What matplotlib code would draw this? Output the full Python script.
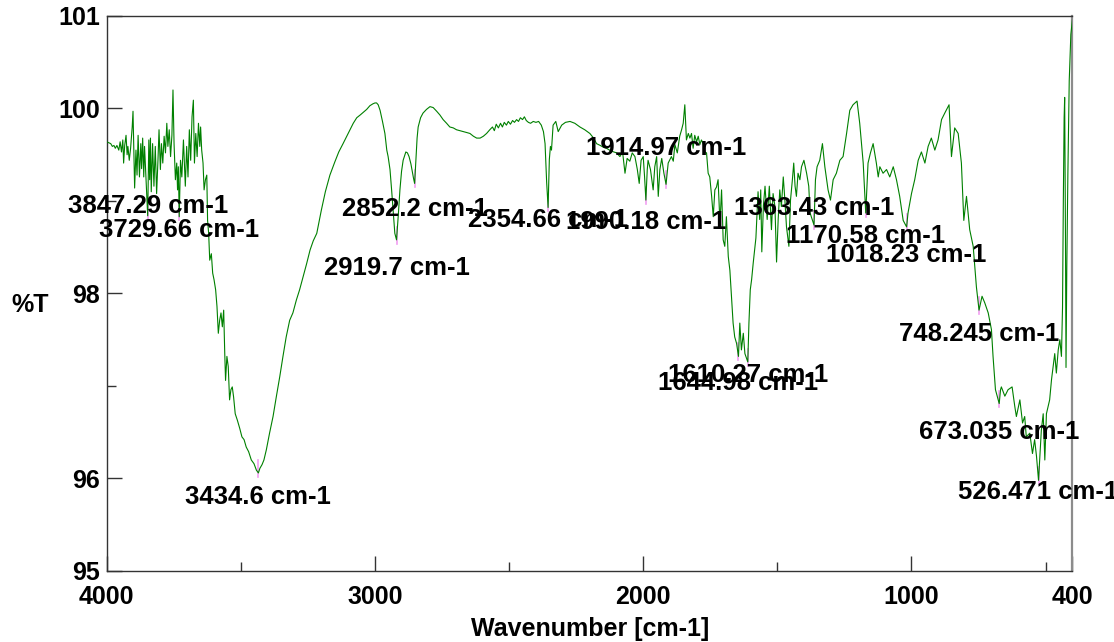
import numpy as np
import matplotlib
matplotlib.use('Agg')
import matplotlib.pyplot as plt

# IR transmittance spectrum, split by region (wavenumber in cm-1, %T)

# O-H stretch region
wn_a = [4000, 3985, 3979, 3973, 3968, 3962, 3955, 3950, 3945, 3940,
        3937, 3933, 3928, 3924, 3921, 3916, 3911, 3905, 3902, 3898,
        3896, 3891, 3887, 3883, 3878, 3873, 3870, 3866, 3862, 3859,
        3855, 3847.29, 3843, 3840, 3837, 3834, 3829, 3824, 3819, 3814,
        3809, 3805, 3800, 3796, 3791, 3786, 3781, 3776, 3772, 3767,
        3762, 3757, 3753, 3749, 3744, 3739, 3736, 3733, 3729.66, 3725,
        3720, 3714, 3707, 3702, 3697, 3692, 3687, 3682, 3677, 3673,
        3668, 3663, 3658, 3653, 3650, 3646, 3641, 3637, 3632, 3627,
        3624, 3620, 3616, 3610, 3605, 3600, 3594, 3589, 3584, 3579,
        3574, 3569, 3564, 3560, 3557, 3552, 3547, 3542, 3537, 3532,
        3527, 3521, 3513, 3504, 3496, 3488, 3480, 3471, 3461, 3451,
        3442, 3434.6, 3429, 3421, 3414, 3405, 3393, 3380, 3368, 3355,
        3343, 3331, 3318, 3306, 3293, 3281]
t_a = [99.64, 99.62, 99.59, 99.60, 99.57, 99.60, 99.55, 99.64, 99.53, 99.66,
       99.41, 99.60, 99.71, 99.50, 99.59, 99.44, 99.57, 99.80, 99.97, 99.41,
       99.14, 99.55, 99.28, 99.71, 99.26, 99.62, 99.35, 99.68, 99.26, 99.59,
       99.34, 98.84, 99.66, 99.23, 99.68, 99.10, 99.62, 99.16, 99.59, 99.08,
       99.44, 99.77, 99.34, 99.62, 99.41, 99.70, 99.52, 99.84, 99.59, 99.77,
       99.48, 99.71, 100.20, 99.62, 99.23, 99.41, 99.12, 99.37, 98.83, 99.44,
       99.26, 99.66, 99.16, 99.59, 99.26, 99.77, 99.44, 99.91, 100.09, 99.41,
       99.73, 99.48, 99.84, 99.59, 99.80, 99.55, 99.41, 99.12, 99.23, 99.28,
       98.79, 98.65, 98.36, 98.43, 98.22, 98.15, 98.04, 97.86, 97.57, 97.71,
       97.79, 97.64, 97.82, 97.35, 97.06, 97.32, 97.21, 96.85, 96.96, 96.99,
       96.88, 96.70, 96.63, 96.54, 96.45, 96.42, 96.34, 96.29, 96.20, 96.16,
       96.09, 96.06, 96.11, 96.15, 96.20, 96.31, 96.49, 96.67, 96.88, 97.10,
       97.32, 97.53, 97.71, 97.79, 97.93, 98.04]

# C-H stretch and CO2 region
wn_b = [3268, 3255, 3242, 3230, 3217, 3200, 3185, 3168, 3150, 3135,
        3119, 3100, 3081, 3068, 3055, 3043, 3031, 3019, 3008, 3000,
        2994, 2988, 2981, 2972, 2963, 2956, 2951, 2944, 2938, 2932,
        2926, 2919.7, 2913, 2907, 2901, 2895, 2885, 2879, 2873, 2866,
        2860, 2856, 2852.2, 2847, 2843, 2839, 2830, 2821, 2808, 2795,
        2783, 2770, 2758, 2746, 2733, 2721, 2708, 2696, 2683, 2671,
        2658, 2646, 2633, 2621, 2608, 2596, 2584, 2572, 2562, 2555,
        2548, 2540, 2532, 2525, 2518, 2510, 2503, 2495, 2487, 2480,
        2472, 2465, 2458, 2450, 2443, 2436, 2428, 2420, 2410, 2400,
        2390, 2380]
t_b = [98.18, 98.32, 98.47, 98.57, 98.65, 98.90, 99.10, 99.28, 99.42, 99.53,
       99.62, 99.73, 99.84, 99.90, 99.93, 99.96, 99.99, 100.03, 100.05, 100.06,
       100.06, 100.04, 99.98, 99.86, 99.73, 99.55, 99.48, 99.34, 99.12, 98.88,
       98.65, 98.58, 98.85, 99.12, 99.32, 99.44, 99.53, 99.52, 99.48, 99.40,
       99.30, 99.24, 99.19, 99.48, 99.68, 99.80, 99.90, 99.95, 99.99, 100.02,
       100.01, 99.97, 99.93, 99.88, 99.84, 99.80, 99.79, 99.77, 99.76, 99.75,
       99.74, 99.73, 99.70, 99.68, 99.68, 99.70, 99.73, 99.77, 99.80, 99.76,
       99.83, 99.79, 99.84, 99.80, 99.85, 99.82, 99.86, 99.83, 99.87, 99.85,
       99.88, 99.86, 99.90, 99.88, 99.91, 99.87, 99.85, 99.84, 99.86, 99.85,
       99.86, 99.82]

# carbonyl / C=C region
wn_c = [2372, 2366, 2360, 2354.66, 2350, 2346, 2342, 2336, 2326, 2317,
        2304, 2290, 2273, 2255, 2236, 2218, 2199, 2185, 2174, 2160,
        2148, 2137, 2120, 2099, 2087, 2077, 2068, 2060, 2050, 2041,
        2031, 2022, 2015, 2008, 2000, 1995, 1990.18, 1985, 1982, 1973,
        1963, 1957, 1950, 1944, 1938, 1931, 1923, 1914.97, 1907, 1895,
        1888, 1882, 1873, 1864, 1857, 1851, 1845, 1839, 1832, 1826,
        1820, 1814, 1808, 1801, 1795, 1789, 1783, 1777, 1770, 1764,
        1758, 1752, 1745, 1739, 1733, 1727, 1721, 1714, 1708, 1702,
        1696, 1690, 1683, 1677, 1671, 1665, 1659, 1652, 1644.98, 1640,
        1634, 1627, 1621, 1615, 1610.27, 1606, 1601, 1596, 1590, 1580,
        1572, 1566, 1562, 1558, 1552, 1546, 1538, 1530, 1522, 1516,
        1509, 1503]
t_c = [99.75, 99.62, 99.20, 98.93, 99.45, 99.59, 99.55, 99.82, 99.86, 99.75,
       99.82, 99.85, 99.86, 99.84, 99.80, 99.77, 99.73, 99.68, 99.62, 99.60,
       99.58, 99.57, 99.54, 99.52, 99.48, 99.53, 99.30, 99.46, 99.43, 99.52,
       99.48, 99.34, 99.19, 99.44, 99.48, 99.26, 99.01, 99.34, 99.44, 99.34,
       99.12, 99.37, 99.48, 99.05, 99.34, 99.46, 99.30, 99.18, 99.41, 99.48,
       99.43, 99.61, 99.52, 99.70, 99.77, 99.84, 100.04, 99.66, 99.73, 99.68,
       99.73, 99.57, 99.71, 99.64, 99.70, 99.61, 99.66, 99.62, 99.53, 99.52,
       99.30, 99.26, 99.05, 98.83, 99.12, 99.15, 99.23, 98.76, 99.12, 98.58,
       98.51, 98.83, 98.40, 98.25, 97.97, 97.68, 97.53, 97.46, 97.32, 97.68,
       97.39, 97.57, 97.35, 97.30, 97.26, 97.68, 98.04, 98.15, 98.33, 98.60,
       99.10, 98.80, 99.12, 98.45, 98.95, 99.16, 98.80, 99.16, 98.69, 99.08,
       98.94, 98.34]

# fingerprint region
wn_d = [1497, 1491, 1485, 1478, 1472, 1466, 1457, 1451, 1444, 1439,
        1434, 1429, 1423, 1416, 1410, 1401, 1391, 1383, 1378, 1363.43,
        1358, 1352, 1342, 1332, 1323, 1311, 1302, 1292, 1280, 1267,
        1255, 1242, 1230, 1218, 1203, 1193, 1180, 1170.58, 1162, 1153,
        1143, 1131, 1124, 1118, 1106, 1093, 1081, 1068, 1056, 1044,
        1031, 1018.23, 1013, 1000, 988, 975, 963, 950, 938, 926,
        913, 901, 888, 876, 860, 851, 839, 826, 814, 805,
        795, 783, 770, 758, 748.245, 737, 727, 714, 702, 696,
        687, 673.035, 668, 665, 652, 640, 625, 615, 609, 596,
        586, 578, 572, 559, 549, 541, 534, 526.471, 516, 509,
        503, 497, 485, 478, 472, 466, 460, 453, 447, 441,
        437, 434, 431, 429, 426, 424, 421, 417, 412, 406,
        400]
t_d = [98.80, 99.12, 98.94, 99.26, 99.01, 98.72, 98.51, 99.01, 99.23, 99.41,
       99.16, 99.05, 99.30, 99.23, 99.37, 99.44, 99.30, 99.16, 98.87, 98.74,
       99.23, 99.37, 99.44, 99.62, 99.37, 99.12, 99.01, 99.23, 99.30, 99.44,
       99.48, 99.73, 99.98, 100.04, 100.08, 99.84, 99.41, 98.87, 99.41, 99.52,
       99.62, 99.41, 99.26, 99.37, 99.30, 99.34, 99.26, 99.37, 99.23, 99.05,
       98.79, 98.72, 98.87, 99.08, 99.23, 99.44, 99.53, 99.41, 99.59, 99.68,
       99.55, 99.66, 99.88, 99.95, 100.04, 99.48, 99.79, 99.73, 99.41, 98.79,
       99.05, 98.69, 98.51, 98.07, 97.82, 97.97, 97.90, 97.79, 97.61, 97.32,
       96.96, 96.81, 96.96, 96.99, 96.89, 96.96, 96.99, 96.78, 96.67, 96.85,
       96.60, 96.67, 96.45, 96.49, 96.27, 96.42, 96.24, 95.98, 96.52, 96.70,
       96.20, 96.70, 96.85, 97.07, 97.21, 97.35, 97.14, 97.39, 97.50, 97.32,
       97.85, 99.00, 99.90, 100.12, 98.60, 97.20, 98.30, 99.30, 100.30, 100.80,
       100.96]

# picked peaks
peak_wn = [3847.29, 3729.66, 3434.6, 2919.7, 2852.2, 2354.66, 1990.18, 1914.97,
           1644.98, 1610.27, 1363.43, 1170.58, 1018.23, 748.245, 673.035, 526.471]
# vertical label shift in pixels (+ up)
label_dy = [10, -13, -24, -28, -26, -13, -22, 36,
            -27, -13, 17, -23, -28, -24, -28, -12]

wavenumber = np.concatenate([wn_a, wn_b, wn_c, wn_d])
transmittance = np.concatenate([t_a, t_b, t_c, t_d])

plt.rcParams['font.family'] = ['Liberation Sans', 'DejaVu Sans']
plt.rcParams['font.weight'] = 'bold'

fig = plt.figure(figsize=(11.14, 6.42), dpi=100)
ax = fig.add_axes([0.0958, 0.1106, 0.8669, 0.8645])

ax.plot(wavenumber, transmittance, color='#008000', lw=0.8, zorder=3)

ax.set_xlim(4000, 400)
ax.set_ylim(95, 101)
ax.set_xticks([4000, 3000, 2000, 1000, 400])
ax.set_xticks([3500, 2500, 1500, 500], minor=True)
ax.set_yticks([95, 96, 98, 100, 101])
ax.set_yticks([97, 99], minor=True)
ax.tick_params(which='both', direction='in', color='#333333', labelsize=18)
ax.tick_params(which='major', length=11, width=1)
ax.tick_params(which='minor', length=6.5, width=1)
ax.tick_params(axis='x', pad=10)
ax.tick_params(axis='y', pad=5)

for side in ['left', 'bottom', 'top']:
    ax.spines[side].set_color('#333333')
    ax.spines[side].set_linewidth(1)
ax.spines['right'].set_color('#8c8c8c')
ax.spines['right'].set_linewidth(1.6)

# peak markers + labels
for wn, dy in zip(peak_wn, label_dy):
    t = transmittance[np.argmin(np.abs(wavenumber - wn))]
    ax.plot([wn, wn], [t - 0.04, t + 0.14], color='#f29df2', lw=1.2, zorder=2)
    ax.annotate(f'{wn:g} cm-1', xy=(wn, t), xytext=(0, dy),
                textcoords='offset pixels', ha='center', va='center',
                fontsize=18.5, fontweight='bold', annotation_clip=False,
                zorder=5)

fig.text(0.027, 0.525, '%T', ha='center', va='center', fontsize=18)
fig.text(0.5293, 0.02, 'Wavenumber [cm-1]', ha='center', va='center',
         fontsize=18)

fig.savefig('out.png', dpi=100)
